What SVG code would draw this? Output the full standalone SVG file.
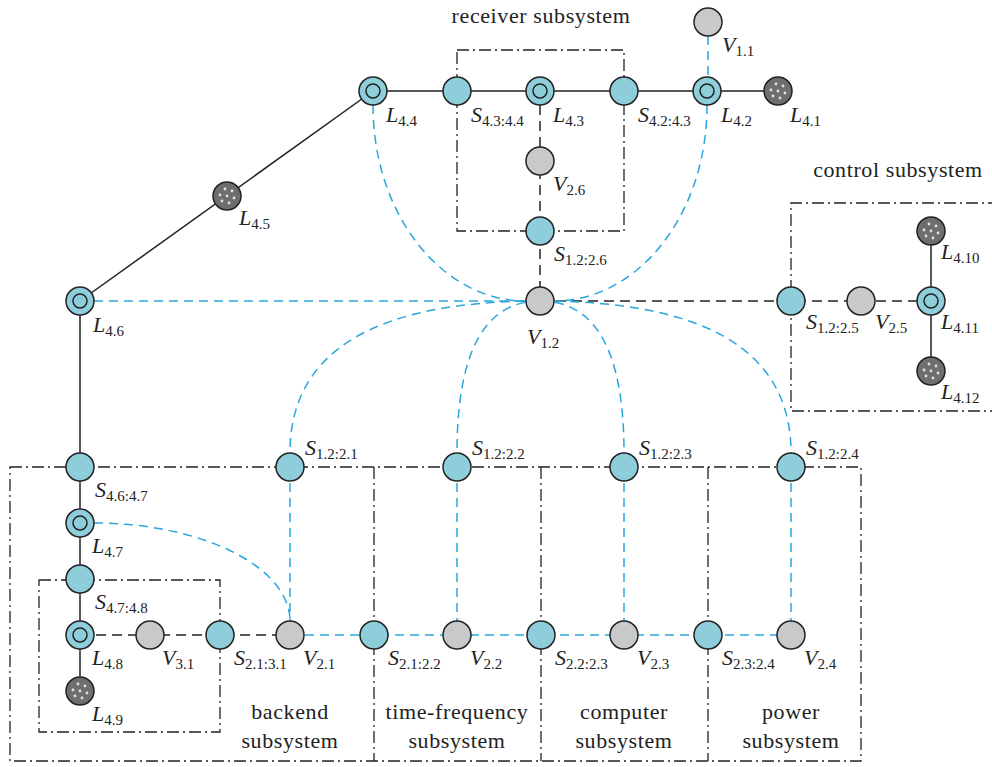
<svg xmlns="http://www.w3.org/2000/svg" xmlns:xlink="http://www.w3.org/1999/xlink" width="992" height="767" viewBox="0 0 992 767">
<style>
.bx{fill:none;stroke:#222;stroke-width:1.3;stroke-dasharray:12 4 2 4}
.sol{fill:none;stroke:#222;stroke-width:1.5}
.bd{fill:none;stroke:#222;stroke-width:1.5;stroke-dasharray:10 6}
.bl{fill:none;stroke:#2aa6de;stroke-width:1.5;stroke-dasharray:9 6}
.s{fill:#8ecdda;stroke:#222;stroke-width:1.5}
.v{fill:#c8c9cb;stroke:#222;stroke-width:1.5}
.d{fill:#6e6e6e;stroke:#222;stroke-width:1.5}
.ring{fill:none;stroke:#222;stroke-width:1.5}
.lb{font-family:'Liberation Serif','Times New Roman','DejaVu Serif',serif;font-style:italic;font-size:22px;fill:#222}
.sb{font-style:normal;font-size:15px}
.t{font-family:'Liberation Serif','Times New Roman','DejaVu Serif',serif;font-size:22px;letter-spacing:0.6px;fill:#222;text-anchor:middle}
</style>
<defs>
<g id="dots" fill="#e2e2e2">
<circle cx="-2" cy="-7" r="1.4"/><circle cx="5" cy="-5" r="1.4"/><circle cx="-7" cy="-1" r="1.4"/><circle cx="0" cy="0" r="1.4"/><circle cx="7" cy="2" r="1.4"/><circle cx="-5" cy="5" r="1.4"/><circle cx="2" cy="7" r="1.4"/>
</g>
</defs>
<g id="boxes">
<rect class="bx" x="457" y="50" width="167" height="181"/>
<path class="bx" d="M1000 203 H791 V411 H1000"/>
<rect class="bx" x="10" y="467" width="851" height="294"/>
<path class="bx" d="M374 467 V761 M541 467 V761 M708 467 V761"/>
<rect class="bx" x="39" y="580" width="181" height="152"/>
</g>
<g id="connectors">
<path class="sol" d="M373 91 H778"/>
<path class="sol" d="M373 91 L80 301"/>
<path class="sol" d="M80 301 V691"/>
<path class="sol" d="M931 231 V371"/>
<path class="bd" d="M540 105 V301"/>
<path class="bd" d="M540 301 H931"/>
<path class="bd" d="M80 635 H290"/>
<path class="bl" d="M290 635 H791"/>
<path class="bl" d="M708 36 V91"/>
<path class="bl" d="M94 301 H526"/>
<path class="bl" d="M290 453 V621 M457 453 V621 M624 453 V621 M791 453 V621"/>
<path class="bl" d="M373 105 C373 215 442 301 526 301"/>
<path class="bl" d="M707 105 C707 215 638 301 554 301"/>
<path class="bl" d="M540 301 Q290 301 290 453"/>
<path class="bl" d="M540 301 Q457 301 457 453"/>
<path class="bl" d="M540 301 Q624 301 624 453"/>
<path class="bl" d="M540 301 Q791 301 791 453"/>
<path class="bl" d="M94 523 C202 523 290 567 290 621"/>
</g>
<g id="V1.1"><circle class="v" cx="708" cy="22" r="14"/><text class="lb" x="722" y="52">V<tspan class="sb" dy="4">1.1</tspan></text></g>
<g id="L4.4"><circle class="s" cx="373" cy="91" r="14"/><circle class="ring" cx="373" cy="91" r="7"/><text class="lb" x="386" y="122">L<tspan class="sb" dy="4">4.4</tspan></text></g>
<g id="S4.3-4.4"><circle class="s" cx="457" cy="91" r="14"/><text class="lb" x="471" y="122">S<tspan class="sb" dy="4">4.3:4.4</tspan></text></g>
<g id="L4.3"><circle class="s" cx="540" cy="91" r="14"/><circle class="ring" cx="540" cy="91" r="7"/><text class="lb" x="553" y="122">L<tspan class="sb" dy="4">4.3</tspan></text></g>
<g id="S4.2-4.3"><circle class="s" cx="624" cy="91" r="14"/><text class="lb" x="638" y="122">S<tspan class="sb" dy="4">4.2:4.3</tspan></text></g>
<g id="L4.2"><circle class="s" cx="707" cy="91" r="14"/><circle class="ring" cx="707" cy="91" r="7"/><text class="lb" x="721" y="122">L<tspan class="sb" dy="4">4.2</tspan></text></g>
<g id="L4.1"><circle class="d" cx="778" cy="91" r="14"/><use xlink:href="#dots" x="778" y="91"/><text class="lb" x="790" y="122">L<tspan class="sb" dy="4">4.1</tspan></text></g>
<g id="V2.6"><circle class="v" cx="540" cy="161" r="14"/><text class="lb" x="553" y="191">V<tspan class="sb" dy="4">2.6</tspan></text></g>
<g id="S1.2-2.6"><circle class="s" cx="540" cy="231" r="14"/><text class="lb" x="554" y="261">S<tspan class="sb" dy="4">1.2:2.6</tspan></text></g>
<g id="V1.2"><circle class="v" cx="540" cy="301" r="14"/><text class="lb" x="527" y="344">V<tspan class="sb" dy="4">1.2</tspan></text></g>
<g id="L4.5"><circle class="d" cx="227" cy="196" r="14"/><use xlink:href="#dots" x="227" y="196"/><text class="lb" x="239" y="225">L<tspan class="sb" dy="4">4.5</tspan></text></g>
<g id="L4.6"><circle class="s" cx="80" cy="301" r="14"/><circle class="ring" cx="80" cy="301" r="7"/><text class="lb" x="93" y="332">L<tspan class="sb" dy="4">4.6</tspan></text></g>
<g id="S1.2-2.5"><circle class="s" cx="791" cy="301" r="14"/><text class="lb" x="806" y="329">S<tspan class="sb" dy="4">1.2:2.5</tspan></text></g>
<g id="V2.5"><circle class="v" cx="861" cy="301" r="14"/><text class="lb" x="875" y="329">V<tspan class="sb" dy="4">2.5</tspan></text></g>
<g id="L4.11"><circle class="s" cx="931" cy="301" r="14"/><circle class="ring" cx="931" cy="301" r="7"/><text class="lb" x="941" y="329">L<tspan class="sb" dy="4">4.11</tspan></text></g>
<g id="L4.10"><circle class="d" cx="931" cy="231" r="14"/><use xlink:href="#dots" x="931" y="231"/><text class="lb" x="941" y="259">L<tspan class="sb" dy="4">4.10</tspan></text></g>
<g id="L4.12"><circle class="d" cx="931" cy="371" r="14"/><use xlink:href="#dots" x="931" y="371"/><text class="lb" x="941" y="399">L<tspan class="sb" dy="4">4.12</tspan></text></g>
<g id="S4.6-4.7"><circle class="s" cx="80" cy="467" r="14"/><text class="lb" x="95" y="497">S<tspan class="sb" dy="4">4.6:4.7</tspan></text></g>
<g id="L4.7"><circle class="s" cx="80" cy="523" r="14"/><circle class="ring" cx="80" cy="523" r="7"/><text class="lb" x="92" y="553">L<tspan class="sb" dy="4">4.7</tspan></text></g>
<g id="S4.7-4.8"><circle class="s" cx="80" cy="579" r="14"/><text class="lb" x="95" y="609">S<tspan class="sb" dy="4">4.7:4.8</tspan></text></g>
<g id="L4.8"><circle class="s" cx="80" cy="635" r="14"/><circle class="ring" cx="80" cy="635" r="7"/><text class="lb" x="92" y="665">L<tspan class="sb" dy="4">4.8</tspan></text></g>
<g id="L4.9"><circle class="d" cx="80" cy="691" r="14"/><use xlink:href="#dots" x="80" y="691"/><text class="lb" x="92" y="721">L<tspan class="sb" dy="4">4.9</tspan></text></g>
<g id="V3.1"><circle class="v" cx="150" cy="635" r="14"/><text class="lb" x="162" y="665">V<tspan class="sb" dy="4">3.1</tspan></text></g>
<g id="S2.1-3.1"><circle class="s" cx="220" cy="635" r="14"/><text class="lb" x="234" y="665">S<tspan class="sb" dy="4">2.1:3.1</tspan></text></g>
<g id="V2.1"><circle class="v" cx="290" cy="635" r="14"/><text class="lb" x="303" y="665">V<tspan class="sb" dy="4">2.1</tspan></text></g>
<g id="S1.2-2.1"><circle class="s" cx="290" cy="467" r="14"/><text class="lb" x="305" y="455">S<tspan class="sb" dy="4">1.2:2.1</tspan></text></g>
<g id="S2.1-2.2"><circle class="s" cx="374" cy="635" r="14"/><text class="lb" x="388" y="665">S<tspan class="sb" dy="4">2.1:2.2</tspan></text></g>
<g id="V2.2"><circle class="v" cx="457" cy="635" r="14"/><text class="lb" x="470" y="665">V<tspan class="sb" dy="4">2.2</tspan></text></g>
<g id="S1.2-2.2"><circle class="s" cx="457" cy="467" r="14"/><text class="lb" x="472" y="455">S<tspan class="sb" dy="4">1.2:2.2</tspan></text></g>
<g id="S2.2-2.3"><circle class="s" cx="541" cy="635" r="14"/><text class="lb" x="555" y="665">S<tspan class="sb" dy="4">2.2:2.3</tspan></text></g>
<g id="V2.3"><circle class="v" cx="624" cy="635" r="14"/><text class="lb" x="637" y="665">V<tspan class="sb" dy="4">2.3</tspan></text></g>
<g id="S1.2-2.3"><circle class="s" cx="624" cy="467" r="14"/><text class="lb" x="639" y="455">S<tspan class="sb" dy="4">1.2:2.3</tspan></text></g>
<g id="S2.3-2.4"><circle class="s" cx="708" cy="635" r="14"/><text class="lb" x="722" y="665">S<tspan class="sb" dy="4">2.3:2.4</tspan></text></g>
<g id="V2.4"><circle class="v" cx="791" cy="635" r="14"/><text class="lb" x="804" y="665">V<tspan class="sb" dy="4">2.4</tspan></text></g>
<g id="S1.2-2.4"><circle class="s" cx="791" cy="467" r="14"/><text class="lb" x="806" y="455">S<tspan class="sb" dy="4">1.2:2.4</tspan></text></g>
<g id="titles">
<text class="t" x="541" y="23">receiver subsystem</text>
<text class="t" x="898" y="177">control subsystem</text>
<text class="t" x="290" y="719">backend</text><text class="t" x="290" y="748">subsystem</text>
<text class="t" x="457" y="719">time-frequency</text><text class="t" x="457" y="748">subsystem</text>
<text class="t" x="624" y="719">computer</text><text class="t" x="624" y="748">subsystem</text>
<text class="t" x="791" y="719">power</text><text class="t" x="791" y="748">subsystem</text>
</g>
</svg>
